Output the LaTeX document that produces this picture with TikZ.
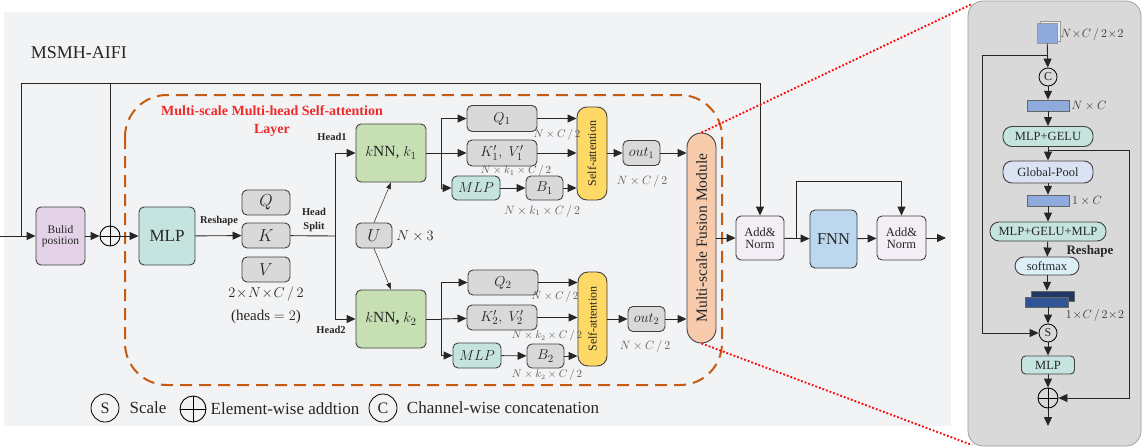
\documentclass[tikz,border=0pt]{standalone}
\usepackage{fontspec}
\setmainfont{Liberation Serif}
\usepackage{tikz}
\usetikzlibrary{positioning}
\usetikzlibrary{arrows.meta,shapes}
\usetikzlibrary{calc}
\definecolor{bgcol}{HTML}{F2F3F5}
\definecolor{panelcol}{HTML}{D9D9D9}
\definecolor{posfill}{HTML}{E4D3E8}
\definecolor{mlpfill}{HTML}{C6E4DF}
\definecolor{knnfill}{HTML}{C6E0B4}
\definecolor{grayfill}{HTML}{D9D9D9}
\definecolor{safill}{HTML}{FFD966}
\definecolor{fusefill}{HTML}{F8CBAD}
\definecolor{addfill}{HTML}{F3EDF5}
\definecolor{fnnfill}{HTML}{BDD7EE}
\definecolor{poolfill}{HTML}{DAE3F3}
\definecolor{softfill}{HTML}{DDEFF6}
\definecolor{barfill}{HTML}{8FAADC}
\definecolor{darkbar}{HTML}{203864}
\definecolor{darkbarb}{HTML}{2F5597}
\definecolor{dashcol}{HTML}{C55A11}
\definecolor{titlered}{HTML}{EE2A2A}
\tikzstyle{blk}=[draw=black!75,line width=0.9pt,rounded corners=5pt,inner sep=0pt,text=black!85]
\tikzstyle{pill}=[draw=black!75,line width=0.9pt,inner sep=0pt,text=black!85]
\tikzstyle{circ}=[circle,draw=black,line width=0.8pt,inner sep=0pt,text=black!85]
\tikzstyle{oplus}=[circle,draw=black,line width=0.9pt,inner sep=0pt,path picture={\draw[line width=0.9pt] (path picture bounding box.north) -- (path picture bounding box.south) (path picture bounding box.west) -- (path picture bounding box.east);}]
\tikzstyle{dimlabel}=[text=black!65,inner sep=0pt]
\tikzstyle{thinarrow}=[->,>={Triangle[length=6.5pt,width=5pt]},line width=0.5pt]

\begin{document}
\begin{tikzpicture}[x=1pt,y=-1pt,>={Triangle[length=9pt,width=8pt]},line width=0.9pt,draw=black!85]
\useasboundingbox (0,0) rectangle (1148,447);

  \fill[bgcol] (4,12) rectangle (951,426);
  \draw[draw=black!40,fill=panelcol,rounded corners=15pt,line width=0.7pt] (968,1) rectangle (1141,446);

  \node[anchor=west,font=\fontsize{18}{20}\selectfont,text=black!85] (ttl) at (27,53) {MSMH-AIFI};

  \draw[dashcol,line width=2pt,dash pattern=on 12pt off 7pt,rounded corners=42pt] (125,95) rectangle (722,385);
  \node[align=center,text=titlered,font=\bfseries\fontsize{14}{18}\selectfont] (lyr) at (272,121) {Multi-scale Multi-head Self-attention\\Layer};

   \foreach \x/\y/\w/\h/\c/\f/\name/\label in {60.5/236/49/58/posfill/11.5/pos/{Bulid\\position}, 167/236/56/58/mlpfill/17/mlp/MLP,
        266/202.5/48/25/grayfill/16/q/$Q$, 266/235.5/48/25/grayfill/16/k/$K$, 266/269.5/48/25/grayfill/16/v/$V$,
        391/153/70/58/knnfill/15.5/knn1/{$k$NN, $k_1$}, 391/319/70/58/knnfill/15.5/knn2/{$k$NN\textbf{,} $k_2$}, 374/235.5/36/25/grayfill/16/u/$U$,
        502/118.5/70/26/grayfill/15/q1/$Q_1$, 502/153/70/26/grayfill/15/kv1/{$K_1',\;V_1'$}, 476/188/48/24/mlpfill/14/mlp1/$MLP$,
        544.5/188/37/24/grayfill/15/b1/$B_1$, 641.5/153/37/25/grayfill/14/out1/$out_1$,
        503/282.5/70/25/grayfill/15/q2/$Q_2$, 502/317.5/70/25/grayfill/15/kv2/{$K_2',\;V_2'$}, 477/355.5/48/25/mlpfill/14/mlp2/$MLP$,
        545.5/356/37/24/grayfill/15/b2/$B_2$, 646.5/319/37/25/grayfill/14/out2/$out_2$,
        760/238/48/44/addfill/12.5/an1/{Add\&\\Norm}, 833.5/239/47/58/fnnfill/16.5/fnn/FNN, 901.5/238/49/44/addfill/12.5/an2/{Add\&\\Norm}}
          \node[blk,fill=\c,minimum width=\w,minimum height=\h,align=center,font=\fontsize{\f}{\f}\selectfont] (\name) at (\x,\y) {\label};

   \foreach \x/\y/\w/\h/\c/\r/\name in {592/153.5/30/93/safill/10/sa1, 592.5/319/29/94/safill/10/sa2, 701.5/238/29/210/fusefill/14.5/fuse}
          \node[pill,fill=\c,rounded corners=\r,minimum width=\w,minimum height=\h] (\name) at (\x,\y) {};
  \foreach \name/\label/\f in {sa1/Self-attention/12, sa2/Self-attention/12, fuse/Multi-scale Fusion Module/15.5}
          \node[rotate=90,text=black!85,font=\fontsize{\f}{\f}\selectfont] (\name txt) at (\name) {\label};

  \node[oplus,minimum size=20pt] (plus1) at (110,236) {};

  \coordinate (in) at (0,236);
  \coordinate (top) at (21,83);
  \coordinate (hs) at (335,236);
  \coordinate (s1) at (441,153);
  \coordinate (s2) at (441,319);
  \coordinate (fb) at (796,181);
  \coordinate (out) at (946,238);

  \draw[->] (in) -- (pos);
  \draw[->] (top |- in) -- (top) -| (an1);
  \draw (plus1 |- top) -- (plus1);
  \foreach \source/ \dest in {pos/plus1, plus1/mlp, mlp/k, s1/kv1, s2/kv2, mlp1/b1, mlp2/b2, an1/fnn, fnn/an2, an2/out}
         \draw[->] (\source) -- (\dest);
  \draw (k) -- (hs);
  \foreach \source/ \dest in {hs/knn1, hs/knn2, s1/q1, s1/mlp1, s2/q2, s2/mlp2}
         \draw[->] (\source) |- (\dest);
  \draw (knn1) -- (s1);
  \draw (knn2) -- (s2);
  \draw[thinarrow] (u.north) -- (knn1.south);
  \draw[thinarrow] (u.south) -- (knn2.north);
  \foreach \source/ \dest in {q1/sa1, kv1/sa1, b1/sa1, q2/sa2, kv2/sa2, b2/sa2, out1/fuse, out2/fuse}
         \draw[->] (\source) -- (\source -| \dest.west);
  \draw[->] (sa1.east |- out1) -- (out1);
  \draw[->] (sa2.east |- out2) -- (out2);
  \draw[->] (fuse.east |- an1) -- (an1);
  \draw[->] (fb |- an1) -- (fb) -| (an2);

  \foreach \x/\y/\name/\label in {219/221/rsh/Reshape, 332/137/hd1/Head1, 331/330/hd2/Head2}
          \node[font=\bfseries\fontsize{10.5}{12}\selectfont,text=black!85] (\name) at (\x,\y) {\label};
  \node[align=center,font=\bfseries\fontsize{10.5}{14}\selectfont,text=black!85] (hsp) at (314,220) {Head\\Split};
  \node[font=\fontsize{15}{15}\selectfont,text=black!85] (kvdim) at (266,294) {$2\!\times\! N\!\times\! C\,/\,2$};
  \node[font=\fontsize{15}{15}\selectfont,text=black!85] (heads) at (266,317) {(heads $=2$)};
  \node[font=\fontsize{15}{15}\selectfont,text=black!85] (udim) at (415,236) {$N\times 3$};

  \foreach \x/\y/\f/\name/\label in {557/135/10.5/d1/{$N\times C\,/\,2$}, 516/171/11/d2/{$N\times k_1\times C\,/\,2$}, 542/211/12/d3/{$N\times k_1\times C\,/\,2$},
        642/181/13/d4/{$N\times C\,/\,2$}, 555/297/10.5/d5/{$N\times C\,/\,2$}, 547/336/10.5/d6/{$N\times k_2\times C\,/\,2$},
        547/375/10.5/d7/{$N\times k_2\times C\,/\,2$}, 645/346/13/d8/{$N\times C\,/\,2$}}
          \node[dimlabel,font=\fontsize{\f}{\f}\selectfont] (\name) at (\x,\y) {\label};

  \draw[red,dotted,line width=1.8pt] (fuse.north) -- (972,4);
  \draw[red,dotted,line width=1.8pt] (fuse.south) -- (972,445);

  % legend
  \node[circ,minimum size=28pt,font=\fontsize{16}{16}\selectfont] (legs) at (105,408) {S};
  \node[font=\fontsize{17}{17}\selectfont,text=black!85] (legst) at (148,408) {Scale};
  \node[oplus,minimum size=26pt] (legp) at (193,409) {};
  \node[font=\fontsize{17}{17}\selectfont,text=black!85] (legpt) at (285,409) {Element-wise addtion};
  \node[circ,minimum size=28pt,font=\fontsize{16}{16}\selectfont] (legc) at (383,408) {C};
  \node[font=\fontsize{17}{17}\selectfont,text=black!85] (legct) at (503,408) {Channel-wise concatenation};

  % fusion module detail
  \node[draw=black!40,fill=white!80!barfill,line width=0.6pt,minimum size=20pt,inner sep=0pt] (sq1) at (1050,31) {};
  \node[draw=black!40,fill=barfill,line width=0.6pt,minimum size=20pt,inner sep=0pt] (sq2) at (1047,33) {};
  \foreach \x/\y/\w/\h/\c/\name in {1048/105.5/42/11/barfill/bar1, 1048/200.5/42/11/barfill/bar2, 1052.5/296/43/10/darkbar/db1, 1046.5/302/43/10/darkbarb/db2}
          \node[draw=black!60,line width=0.5pt,fill=\c,minimum width=\w,minimum height=\h,inner sep=0pt] (\name) at (\x,\y) {};
  \foreach \x/\y/\w/\h/\c/\name/\label in {1048/136.5/90/20/mlpfill/mg/MLP+GELU, 1048/172/90/22/poolfill/pool/Global-Pool,
        1048/231.5/116/19/mlpfill/mgm/MLP+GELU+MLP, 1047/266/64/18/softfill/soft/softmax}
          \node[pill,fill=\c,rounded corners=9pt,minimum width=\w,minimum height=\h,font=\fontsize{12.5}{12.5}\selectfont] (\name) at (\x,\y) {\label};
  \node[blk,fill=mlpfill,rounded corners=4pt,minimum width=53,minimum height=18,font=\fontsize{12.5}{12.5}\selectfont] (mlp3) at (1048,365) {MLP};
  \node[circ,minimum size=18pt,font=\fontsize{12}{12}\selectfont] (cc) at (1048,77) {C};
  \node[circ,minimum size=18pt,font=\fontsize{12}{12}\selectfont] (ss) at (1048,333) {S};
  \node[oplus,minimum size=20pt] (pp) at (1048,398) {};
  \coordinate (rl) at (982,55);
  \coordinate (rr) at (1129,150);
  \coordinate (rout) at (1048,426);

  \foreach \source/ \dest in {sq2/cc, cc/bar1, bar1/mg, mg/pool, pool/bar2, bar2/mgm, mgm/soft, ss/mlp3, mlp3/pp, pp/rout}
         \draw[->] (\source) -- (\dest);
  \draw[->] (soft) -- (soft |- db1.north);
  \draw[->] (ss |- db2.south) -- (ss);
  \draw[->] (cc |- rl) -- (rl) |- (ss);
  \draw[->] (rr -| pp) -- (rr) |- (pp);

  \foreach \x/\y/\name/\label in {1092/34/l1/{$N\!\times\! C\,/\,2\!\times\! 2$}, 1089/106/l2/{$N\times C$}, 1087/201/l3/{$1\times C$}, 1095/315/l4/{$1\!\times\! C\,/\,2\!\times\! 2$}}
          \node[font=\fontsize{12.5}{12.5}\selectfont,text=black!80] (\name) at (\x,\y) {\label};
  \node[font=\bfseries\fontsize{13}{13}\selectfont,text=black!85] (rsh2) at (1090,251) {Reshape};

\end{tikzpicture}
\end{document}
